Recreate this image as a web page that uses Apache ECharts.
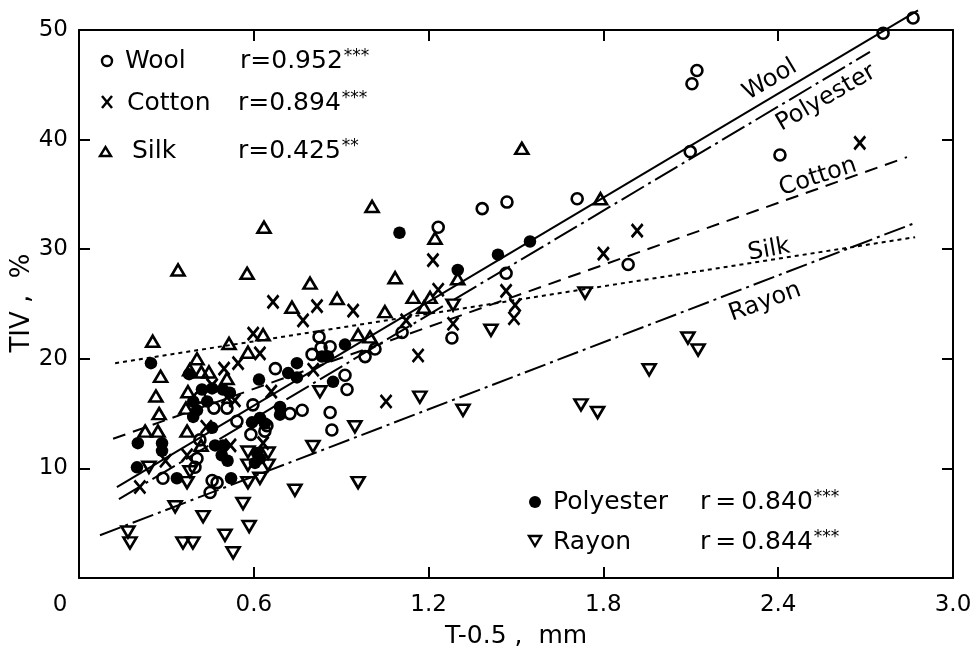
<!DOCTYPE html>
<html><head><meta charset="utf-8">
<script src="https://cdn.jsdelivr.net/npm/echarts@6/dist/echarts.min.js"></script>
<style>html,body{margin:0;padding:0;background:#fff}#c{width:976px;height:659px}</style>
</head><body><div id="c"></div>
<script>
// ---------- data ----------
const fibreNames = ['Wool', 'Cotton', 'Silk', 'Polyester', 'Rayon'];
const rValues = ['0.952', '0.894', '0.425', '0.840', '0.844'];
const rStars = ['***', '***', '**', '***', '***'];

const woolPts = [[0.288,9.1],[0.398,10.1],[0.405,10.9],[0.415,12.6],[0.415,16.5],[0.463,15.5],[0.508,15.5],[0.542,14.3],[0.597,15.8],[0.59,13.1],[0.457,8.9],[0.474,8.7],[0.45,7.8],[0.638,13.4],[0.645,13.9],[0.674,19.1],[0.724,15.0],[0.766,15.3],[0.80,20.4],[0.824,22.0],[0.831,21.0],[0.862,21.1],[0.913,18.5],[0.92,17.2],[0.862,15.1],[0.868,13.5],[0.982,20.2],[1.016,20.9],[1.109,22.4],[1.28,21.9],[1.233,32.0],[1.384,33.7],[1.469,34.3],[1.466,27.8],[1.71,34.6],[1.885,28.6],[2.098,38.9],[2.406,38.6],[2.104,45.1],[2.121,46.3],[2.76,49.7],[2.863,51.1]];

const cottonPts = [[0.209,8.3],[0.297,10.7],[0.371,11.2],[0.437,13.8],[0.52,12.1],[0.498,19.1],[0.546,19.6],[0.457,17.6],[0.508,16.5],[0.535,16.2],[0.598,22.3],[0.621,20.5],[0.632,12.3],[0.66,17.0],[0.666,25.2],[0.769,23.5],[0.817,24.8],[0.804,19.0],[0.941,24.4],[1.054,16.1],[1.123,23.5],[1.164,20.3],[1.215,29.0],[1.233,26.3],[1.284,23.2],[1.466,26.2],[1.497,24.9],[1.493,23.7],[1.80,29.6],[1.916,31.7],[2.68,39.7]];

const silkPts = [[0.34,28.1],[0.577,27.8],[0.635,32.0],[1.006,33.9],[1.52,39.2],[1.79,34.6],[0.253,21.6],[0.515,21.4],[0.58,20.6],[0.405,20.0],[0.28,18.4],[0.38,19.0],[0.42,18.8],[0.446,18.8],[0.508,18.2],[0.264,16.6],[0.374,17.0],[0.275,15.0],[0.367,15.5],[0.227,13.4],[0.271,13.4],[0.371,13.4],[0.419,12.1],[0.793,26.9],[1.085,27.4],[0.886,25.5],[1.147,25.6],[0.731,24.7],[1.184,24.7],[1.05,24.3],[0.632,22.2],[0.958,22.2],[0.999,22.0],[1.222,31.0],[1.30,27.3],[1.205,25.6]];

const polyesterPts = [[0.247,19.6],[0.202,12.3],[0.285,12.3],[0.285,11.6],[0.199,10.1],[0.336,9.1],[0.378,18.6],[0.422,17.2],[0.457,17.3],[0.494,17.2],[0.518,16.9],[0.392,16.1],[0.44,16.1],[0.405,15.3],[0.392,14.7],[0.457,13.7],[0.467,12.1],[0.494,12.1],[0.49,11.2],[0.51,10.7],[0.522,9.1],[0.594,14.2],[0.618,18.1],[0.638,14.1],[0.621,14.6],[0.611,11.4],[0.621,10.9],[0.604,10.5],[0.69,15.6],[0.69,14.9],[0.718,18.7],[0.748,19.6],[0.748,18.3],[0.834,20.2],[0.855,20.2],[0.872,17.9],[0.913,21.3],[1.10,31.5],[1.30,28.1],[1.438,29.5],[1.548,30.7]];

const rayonPts = [[0.168,4.2],[0.175,3.2],[0.357,3.2],[0.391,3.2],[0.501,3.9],[0.529,2.3],[0.584,4.7],[0.33,6.5],[0.426,5.6],[0.563,6.8],[0.24,10.1],[0.371,8.7],[0.381,9.7],[0.58,11.5],[0.58,10.3],[0.58,8.7],[0.621,9.1],[0.649,11.4],[0.649,10.3],[0.741,8.0],[0.803,12.0],[0.827,17.0],[0.947,13.8],[0.958,8.7],[1.17,16.5],[1.284,24.9],[1.318,15.3],[1.414,22.6],[1.737,26.0],[1.723,15.8],[1.78,15.1],[1.957,19.0],[2.09,21.9],[2.125,20.8]];

// regression lines (end points)
const woolFit = [[0.13,8.3],[2.88,51.8]];
const polyesterFit = [[0.137,7.2],[2.715,48.0]];
const cottonFit = [[0.117,12.7],[2.842,38.4]];
const silkFit = [[0.124,19.6],[2.87,31.1]];
const rayonFit = [[0.072,3.9],[2.87,32.4]];

// axis
const xMin = 0, xMax = 3.0, xStep = 0.6;
const yMin = 0, yMax = 50, yStep = 10;
const xTitle = 'T-0.5 ,  mm';
const yTitle = 'TIV ,  %';

// ---------- chart ----------
const FONT = 'DejaVu Sans';
const BLACK = '#000';
const chart = echarts.init(document.getElementById('c'), null, {renderer: 'canvas'});

const openStyle = {color: 'rgba(0,0,0,0)', borderColor: BLACK, borderWidth: 2.6, opacity: 1};
function pts(name, data, symbol, size, style, rotate) {
  return {type: 'scatter', name, data, symbol, symbolSize: size, symbolRotate: rotate || 0,
    itemStyle: style, clip: false, z: 3, silent: true, animation: false};
}
function fit(name, data, dash) {
  return {type: 'line', name: name + ' fit', data, symbol: 'none', clip: false, z: 2, silent: true,
    animation: false, lineStyle: {color: BLACK, width: 2, type: dash}};
}

const tickCommon = {inside: true, length: 11, lineStyle: {color: BLACK, width: 2}};
const lineCommon = {show: true, onZero: false, lineStyle: {color: BLACK, width: 2}};

const graphics = [];
// y-axis title
graphics.push({type: 'text', x: 22, y: 303, rotation: Math.PI / 2,
  style: {text: yTitle, font: '26px "' + FONT + '"', fill: BLACK, align: 'center', verticalAlign: 'middle'}});

// legend
function rText(i, x, y, sep) {
  return {type: 'text', x, y, style: {
    text: 'r' + sep + '=' + sep + rValues[i] + '{s|' + rStars[i] + '}',
    font: '25px "' + FONT + '"', fill: BLACK, verticalAlign: 'middle',
    rich: {s: {fontSize: 17, fontFamily: FONT, fill: BLACK, verticalAlign: 'top', padding: [0, 0, 0, 1]}}
  }};
}
function nameText(i, x, y) {
  return {type: 'text', x, y, style: {text: fibreNames[i], font: '25px "' + FONT + '"', fill: BLACK, verticalAlign: 'middle'}};
}
const stroke2 = {stroke: BLACK, lineWidth: 2.4, fill: 'none'};
// Wool
graphics.push({type: 'circle', shape: {cx: 107, cy: 61, r: 5}, style: stroke2});
graphics.push(nameText(0, 125, 61));
graphics.push(rText(0, 240, 61, ''));
// Cotton
graphics.push({type: 'line', shape: {x1: 102, y1: 96, x2: 112, y2: 108}, style: {stroke: BLACK, lineWidth: 2.5}});
graphics.push({type: 'line', shape: {x1: 112, y1: 96, x2: 102, y2: 108}, style: {stroke: BLACK, lineWidth: 2.5}});
graphics.push(nameText(1, 127, 103));
graphics.push(rText(1, 238, 103, ''));
// Silk
graphics.push({type: 'polygon', shape: {points: [[100, 156], [111, 156], [105.5, 147]]}, style: stroke2});
graphics.push(nameText(2, 132, 151));
graphics.push(rText(2, 238, 151, ''));
// Polyester
graphics.push({type: 'circle', shape: {cx: 535, cy: 502, r: 6}, style: {fill: BLACK}});
graphics.push(nameText(3, 553, 502));
graphics.push(rText(3, 700, 502, '\u2009'));
// Rayon
graphics.push({type: 'polygon', shape: {points: [[529, 536], [541, 536], [535, 546]]}, style: stroke2});
graphics.push(nameText(4, 553, 542));
graphics.push(rText(4, 700, 542, '\u2009'));

// line labels
const lineLabelPos = [[770, 80, 31], [818, 177, 18], [769, 250, 10], [826, 98, 30], [765, 302, 20]];
lineLabelPos.forEach((p, i) => {
  graphics.push({type: 'text', x: p[0], y: p[1], rotation: p[2] * Math.PI / 180,
    style: {text: fibreNames[i], font: '24px "' + FONT + '"', fill: BLACK, align: 'center', verticalAlign: 'middle'}, z: 10});
});

chart.setOption({
  backgroundColor: '#fff',
  animation: false,
  grid: {left: 79, right: 23, top: 30, bottom: 81, containLabel: false},
  xAxis: [{
    type: 'value', min: xMin, max: xMax, interval: xStep, position: 'bottom',
    axisLine: lineCommon, axisTick: tickCommon, splitLine: {show: false},
    axisLabel: {margin: 16, color: BLACK, fontSize: 23, fontFamily: FONT, showMinLabel: true, showMaxLabel: true,
      formatter: v => v === 0 ? '{z|0}' : v.toFixed(1),
      rich: {z: {fontSize: 23, fontFamily: FONT, color: BLACK, padding: [0, 38, 0, 0]}}},
    name: xTitle, nameLocation: 'middle', nameGap: 46,
    nameTextStyle: {color: BLACK, fontSize: 25, fontFamily: FONT}
  }, {
    type: 'value', min: xMin, max: xMax, interval: xStep, position: 'top',
    axisLine: lineCommon, axisTick: tickCommon, splitLine: {show: false}, axisLabel: {show: false}
  }],
  yAxis: [{
    type: 'value', min: yMin, max: yMax, interval: yStep, position: 'left',
    axisLine: lineCommon, axisTick: tickCommon, splitLine: {show: false},
    axisLabel: {margin: 11, color: BLACK, fontSize: 23, fontFamily: FONT,
      formatter: v => v === 0 ? '' : String(v)}
  }, {
    type: 'value', min: yMin, max: yMax, interval: yStep, position: 'right',
    axisLine: lineCommon, axisTick: tickCommon, splitLine: {show: false}, axisLabel: {show: false}
  }],
  series: [
    fit('Wool', woolFit, 'solid'),
    fit('Polyester', polyesterFit, [26, 5, 3, 5]),
    fit('Cotton', cottonFit, [13, 8]),
    fit('Silk', silkFit, [4, 4]),
    fit('Rayon', rayonFit, [22, 5, 3, 5]),
    pts('Wool', woolPts, 'circle', 11, openStyle),
    pts('Cotton', cottonPts, 'path://M0,0L10,12M10,0L0,12', [11, 13], {color: 'rgba(0,0,0,0)', borderColor: BLACK, borderWidth: 2.8, opacity: 1}),
    pts('Silk', silkPts, 'triangle', [13, 11], openStyle),
    pts('Polyester', polyesterPts, 'circle', 12.5, {color: BLACK, opacity: 1}),
    pts('Rayon', rayonPts, 'triangle', [13, 11], openStyle, 180)
  ],
  graphic: graphics
});
</script></body></html>
